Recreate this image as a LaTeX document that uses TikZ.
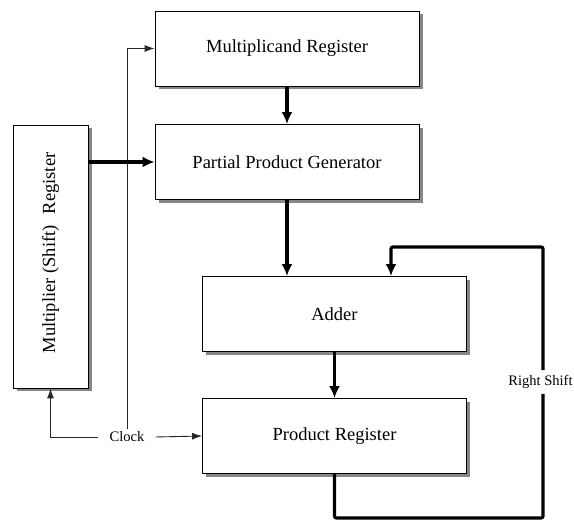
\documentclass[tikz,border=0pt]{standalone}
\usepackage{fontspec}
\setmainfont{Liberation Serif}
\usetikzlibrary{arrows.meta}
\definecolor{shadowgray}{RGB}{135,135,135}

\begin{document}
\begin{tikzpicture}[x=1pt,y=-1pt,
  reg/.style={draw=black, line width=0.9pt, fill=white, inner sep=0pt,
    font=\fontsize{18.5}{20}\selectfont},
  widesize/.style={minimum width=264pt, minimum height=75pt, inner sep=0pt},
  tallsize/.style={minimum width=75pt, minimum height=263pt, inner sep=0pt},
  wide/.style={reg, widesize},
  boxshadow/.style={fill=shadowgray, draw=none},
  bus/.style={line width=3.2pt, draw=black},
  busarrow/.style={bus, -{Latex[length=12pt,width=11pt]}},
  wire/.style={line width=0.9pt, draw=black!85},
  wirearrow/.style={wire, -{Latex[length=10pt,width=7pt]}},
  lbl/.style={font=\fontsize{14.5}{16}\selectfont, fill=white}
]
\useasboundingbox (0,0) rectangle (574,521);

% drop shadows, offset down and to the right of each block
\node[boxshadow, widesize] (mcand-sh) at (290.5,52) {};
\node[boxshadow, widesize] (ppg-sh)   at (290.5,165.5) {};
\node[boxshadow, widesize] (adder-sh) at (338,317.5) {};
\node[boxshadow, widesize] (prod-sh)  at (338,439.5) {};
\node[boxshadow, tallsize] (mplier-sh) at (54,260) {};

% registers and datapath blocks
\node[wide] (mcand) at (287,48.5) {Multiplicand Register};
\node[wide] (ppg)   at (287,162)  {Partial Product Generator};
\node[wide] (adder) at (334.5,314) {Adder};
\node[wide] (prod)  at (334.5,436) {Product Register};
\node[reg, tallsize] (mplier) at (50.5,256.5) {};
\node[rotate=90, font=\fontsize{18.5}{20}\selectfont] (mtext) at (50.5,253)
  {Multiplier (Shift)\hspace{0.6em}Register};

% clock distribution
\node[lbl, inner xsep=11pt, inner ysep=3pt] (clock) at (127,437) {Clock};
\draw[wirearrow] (clock.north) |- (mcand.west);
\draw[wirearrow] (clock.west) -| (mplier.south);
\draw[wirearrow] (clock.east) -- (prod.west);

% datapath buses
\draw[busarrow] (mplier.east |- ppg.west) -- (ppg.west);
\draw[busarrow] (mcand.south) -- (ppg.north);
\draw[busarrow] (ppg.south) -- (ppg.south |- adder.north);
\draw[busarrow] (adder.south) -- (prod.north);

% right-shift feedback loop
\node[lbl, inner xsep=1pt, inner ysep=5pt] (rs) at (540.5,382) {Right Shift};
\coordinate (rsbr) at (543,518);
\coordinate (rstl) at (391,247);
\draw[bus, rounded corners=2pt] (prod.south) |- (rsbr) -- (rsbr |- rs.south);
\draw[busarrow, rounded corners=2pt] (rsbr |- rs.north) |- (rstl) -- (rstl |- adder.north);
\end{tikzpicture}
\end{document}
